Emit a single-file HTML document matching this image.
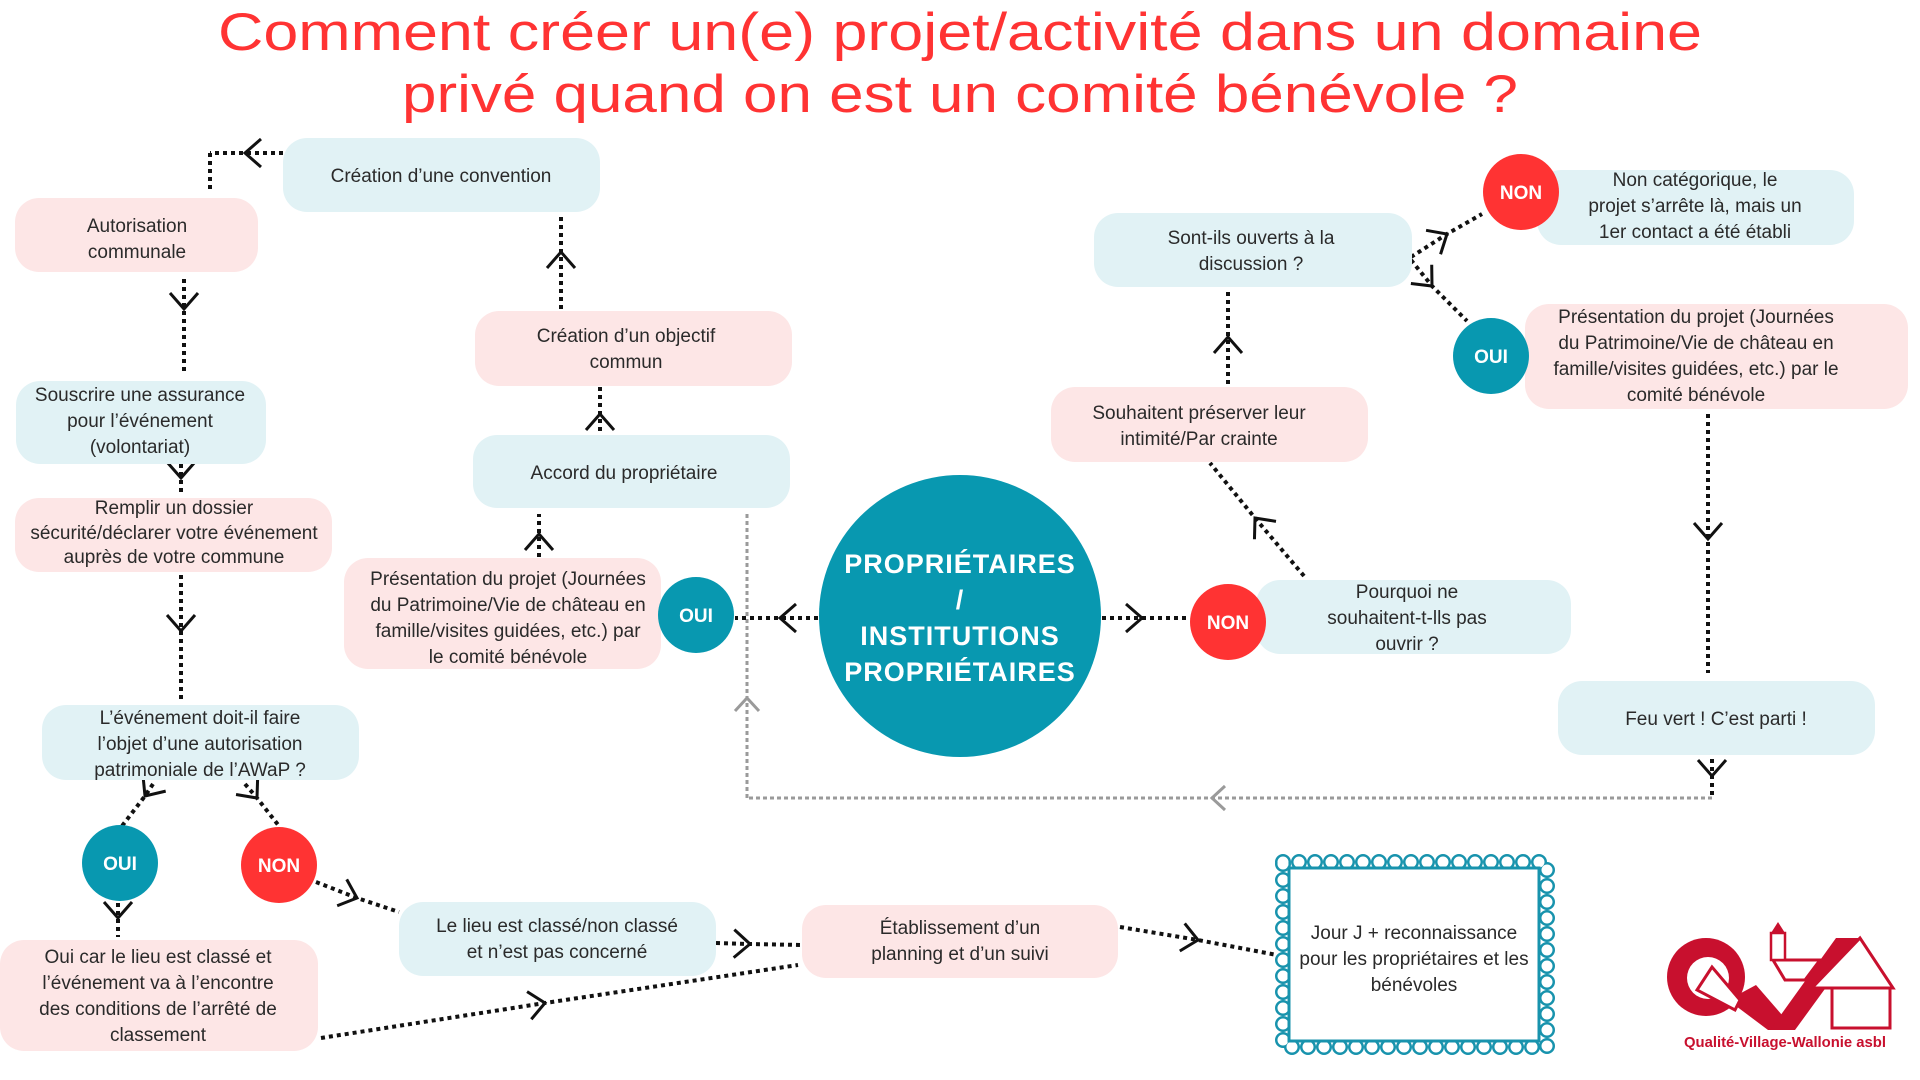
<!DOCTYPE html>
<html><head><meta charset="utf-8"><style>
html,body{margin:0;padding:0;background:#fff;}
svg{display:block;}
text{font-family:"Liberation Sans",sans-serif;}
.t{font-size:19px;fill:#2a2a2a;text-anchor:middle;}
.c{font-size:19px;fill:#fff;font-weight:bold;text-anchor:middle;}
.d{fill:none;stroke:#111;stroke-width:4;stroke-dasharray:4 4;}
.g{fill:none;stroke:#9a9a9a;stroke-width:3;stroke-dasharray:4 3;}
.bl{fill:#e1f2f5;}
.pk{fill:#fde6e6;}
</style></head><body>
<svg width="1920" height="1080" viewBox="0 0 1920 1080" xmlns="http://www.w3.org/2000/svg">
<defs>
<marker id="a" markerUnits="userSpaceOnUse" markerWidth="40" markerHeight="40" refX="0" refY="0" viewBox="-20 -20 40 40" orient="auto" overflow="visible">
<path d="M-16,-14 L0,0 L-16,14" fill="none" stroke="#111" stroke-width="3"/>
</marker>
<marker id="ag" markerUnits="userSpaceOnUse" markerWidth="40" markerHeight="40" refX="0" refY="0" viewBox="-20 -20 40 40" orient="auto" overflow="visible">
<path d="M-13,-12 L0,0 L-13,12" fill="none" stroke="#9a9a9a" stroke-width="3"/>
</marker>
</defs>

<text x="960" y="50" text-anchor="middle" font-size="53" fill="#ff3333" textLength="1484" lengthAdjust="spacingAndGlyphs">Comment créer un(e) projet/activité dans un domaine</text>
<text x="960" y="112" text-anchor="middle" font-size="53" fill="#ff3333" textLength="1116" lengthAdjust="spacingAndGlyphs">privé quand on est un comité bénévole ?</text>

<path class="g" d="M1712,798 L1212,798 L747,798" marker-mid="url(#ag)"/>
<path class="g" d="M747,798 L747,698 L747,512" marker-mid="url(#ag)"/>

<path class="d" d="M283,153 L245,153 L210,153" marker-mid="url(#a)"/>
<path class="d" d="M210,153 L210,192"/>
<path class="d" d="M184,279 L184,309 L184,375" marker-mid="url(#a)"/>
<path class="d" d="M181,464 L181,478 L181,496" marker-mid="url(#a)"/>
<path class="d" d="M181,575 L181,631 L181,700" marker-mid="url(#a)"/>
<path class="d" d="M153,784 L145,796 L122,826" marker-mid="url(#a)"/>
<path class="d" d="M245,784 L257,798 L279,826" marker-mid="url(#a)"/>
<path class="d" d="M118,903 L118,918 L118,937" marker-mid="url(#a)"/>
<path class="d" d="M316,882 L357,898 L399,912" marker-mid="url(#a)"/>
<path class="d" d="M321,1038 L545,1003 L798,965" marker-mid="url(#a)"/>
<path class="d" d="M716,943 L750,944 L802,945" marker-mid="url(#a)"/>
<path class="d" d="M1120,927 L1198,940 L1277,955" marker-mid="url(#a)"/>
<path class="d" d="M818,618 L780,618 L735,618" marker-mid="url(#a)"/>
<path class="d" d="M539,557 L539,534 L539,514" marker-mid="url(#a)"/>
<path class="d" d="M600,431 L600,414 L600,386" marker-mid="url(#a)"/>
<path class="d" d="M561,309 L561,252 L561,216" marker-mid="url(#a)"/>
<path class="d" d="M1102,618 L1142,618 L1188,618" marker-mid="url(#a)"/>
<path class="d" d="M1304,576 L1255,518 L1210,463" marker-mid="url(#a)"/>
<path class="d" d="M1228,384 L1228,337 L1228,289" marker-mid="url(#a)"/>
<path class="d" d="M1411,257 L1447,234 L1482,214" marker-mid="url(#a)"/>
<path class="d" d="M1411,260 L1432,286 L1467,321" marker-mid="url(#a)"/>
<path class="d" d="M1708,414 L1708,539 L1708,673" marker-mid="url(#a)"/>
<path class="d" d="M1712,759 L1712,776 L1712,798" marker-mid="url(#a)"/>

<rect class="bl" x="283" y="138" width="317" height="74" rx="24"/>
<text class="t" x="441" y="182">Création d’une convention</text>

<rect class="pk" x="15" y="198" width="243" height="74" rx="24"/>
<text class="t" x="137" y="232">Autorisation</text><text class="t" x="137" y="258">communale</text>

<rect class="bl" x="16" y="381" width="250" height="83" rx="24"/>
<text class="t" x="140" y="401">Souscrire une assurance</text><text class="t" x="140" y="427">pour l’événement</text><text class="t" x="140" y="453">(volontariat)</text>

<rect class="pk" x="15" y="498" width="317" height="74" rx="24"/>
<text class="t" x="174" y="514" font-size="17">Remplir un dossier</text><text class="t" x="174" y="539" font-size="17">sécurité/déclarer votre événement</text><text class="t" x="174" y="563" font-size="17">auprès de votre commune</text>

<rect class="bl" x="42" y="705" width="317" height="75" rx="24"/>
<text class="t" x="200" y="724">L’événement doit-il faire</text><text class="t" x="200" y="750">l’objet d’une autorisation</text><text class="t" x="200" y="776">patrimoniale de l’AWaP ?</text>

<rect class="pk" x="0" y="940" width="318" height="111" rx="24"/>
<text class="t" x="158" y="963">Oui car le lieu est classé et</text><text class="t" x="158" y="989">l’événement va à l’encontre</text><text class="t" x="158" y="1015">des conditions de l’arrêté de</text><text class="t" x="158" y="1041">classement</text>

<rect class="bl" x="399" y="902" width="317" height="74" rx="24"/>
<text class="t" x="557" y="932">Le lieu est classé/non classé</text><text class="t" x="557" y="958">et n’est pas concerné</text>

<rect class="pk" x="802" y="905" width="316" height="73" rx="24"/>
<text class="t" x="960" y="934">Établissement d’un</text><text class="t" x="960" y="960">planning et d’un suivi</text>

<rect class="pk" x="475" y="311" width="317" height="75" rx="24"/>
<text class="t" x="626" y="342">Création d’un objectif</text><text class="t" x="626" y="368">commun</text>

<rect class="bl" x="473" y="435" width="317" height="73" rx="24"/>
<text class="t" x="624" y="479">Accord du propriétaire</text>

<rect class="pk" x="344" y="558" width="317" height="111" rx="24"/>
<text class="t" x="508" y="585">Présentation du projet (Journées</text><text class="t" x="508" y="611">du Patrimoine/Vie de château en</text><text class="t" x="508" y="637">famille/visites guidées, etc.) par</text><text class="t" x="508" y="663">le comité bénévole</text>

<rect class="bl" x="1256" y="580" width="315" height="74" rx="24"/>
<text class="t" x="1407" y="598">Pourquoi ne</text><text class="t" x="1407" y="624">souhaitent-t-lls pas</text><text class="t" x="1407" y="650">ouvrir ?</text>

<rect class="pk" x="1051" y="387" width="317" height="75" rx="24"/>
<text class="t" x="1199" y="419">Souhaitent préserver leur</text><text class="t" x="1199" y="445">intimité/Par crainte</text>

<rect class="bl" x="1094" y="213" width="318" height="74" rx="24"/>
<text class="t" x="1251" y="244">Sont-ils ouverts à la</text><text class="t" x="1251" y="270">discussion ?</text>

<rect class="bl" x="1537" y="170" width="317" height="75" rx="24"/>
<text class="t" x="1695" y="186">Non catégorique, le</text><text class="t" x="1695" y="212">projet s’arrête là, mais un</text><text class="t" x="1695" y="238">1er contact a été établi</text>

<rect class="pk" x="1525" y="304" width="383" height="105" rx="24"/>
<text class="t" x="1696" y="323">Présentation du projet (Journées</text><text class="t" x="1696" y="349">du Patrimoine/Vie de château en</text><text class="t" x="1696" y="375">famille/visites guidées, etc.) par le</text><text class="t" x="1696" y="401">comité bénévole</text>

<rect class="bl" x="1558" y="681" width="317" height="74" rx="24"/>
<text class="t" x="1716" y="725">Feu vert ! C’est parti !</text>

<circle cx="960" cy="616" r="141" fill="#0898b0"/>
<g font-weight="bold" font-size="27" fill="#fff" text-anchor="middle" letter-spacing="1">
<text x="960" y="573">PROPRIÉTAIRES</text><text x="960" y="609">/</text><text x="960" y="645">INSTITUTIONS</text><text x="960" y="681">PROPRIÉTAIRES</text>
</g>
<circle cx="120" cy="863" r="38" fill="#0898b0"/><text class="c" x="120" y="870">OUI</text>
<circle cx="279" cy="865" r="38" fill="#ff3333"/><text class="c" x="279" y="872">NON</text>
<circle cx="696" cy="615" r="38" fill="#0898b0"/><text class="c" x="696" y="622">OUI</text>
<circle cx="1228" cy="622" r="38" fill="#ff3333"/><text class="c" x="1228" y="629">NON</text>
<circle cx="1521" cy="192" r="38" fill="#ff3333"/><text class="c" x="1521" y="199">NON</text>
<circle cx="1491" cy="356" r="38" fill="#0898b0"/><text class="c" x="1491" y="363">OUI</text>

<rect x="1283" y="862" width="264" height="185" fill="none" stroke="#1893ad" stroke-width="16" stroke-dasharray="0 16" stroke-linecap="round"/>
<rect x="1283" y="862" width="264" height="185" fill="none" stroke="#fff" stroke-width="11" stroke-dasharray="0 16" stroke-linecap="round"/>
<rect x="1289" y="868" width="250" height="173" fill="#fff" stroke="#1893ad" stroke-width="3"/>
<text class="t" x="1414" y="939">Jour J + reconnaissance</text><text class="t" x="1414" y="965">pour les propriétaires et les</text><text class="t" x="1414" y="991">bénévoles</text>

<g fill="#c8102e">
<circle cx="1706" cy="977" r="39"/>
<circle cx="1708" cy="978" r="21" fill="#fff"/>
<polygon points="1728,1000 1756,985 1795,1030 1768,1030"/>
<polygon points="1795,1030 1770,1030 1836,938 1862,938"/>
<polygon points="1812,988 1860,938 1893,988" fill="#fff" stroke="#c8102e" stroke-width="3"/>
<rect x="1832" y="988" width="58" height="40" fill="#fff" stroke="#c8102e" stroke-width="3"/>
<polygon points="1773,960 1820,960 1805,980 1785,980" fill="#fff" stroke="#c8102e" stroke-width="3"/>
<rect x="1771" y="933" width="14" height="27" fill="#fff" stroke="#c8102e" stroke-width="2.5"/>
<polygon points="1771,933 1778,922 1785,933"/>
<polygon points="1697,990 1712,967 1740,1000 1735,1010" fill="#fff" stroke="#c8102e" stroke-width="3"/>
<text x="1785" y="1047" font-size="15" font-weight="bold" text-anchor="middle" textLength="202" lengthAdjust="spacingAndGlyphs">Qualité-Village-Wallonie asbl</text>
</g>
</svg>
</body></html>
